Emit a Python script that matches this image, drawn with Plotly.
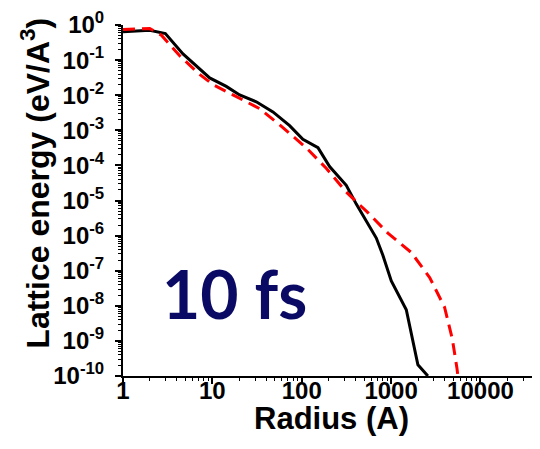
import plotly.graph_objects as go

# Data (radius in Angstrom, lattice energy in eV/A^3)
black_r = [1, 1.99, 2.98, 4.69, 9.33, 14.3, 20.2, 31.0, 47.6, 73.2, 103, 152, 205,
           315, 408, 528, 683, 809, 1005, 1479, 1995, 2580]
black_e = [0.64, 0.71, 0.57, 0.15, 0.031, 0.0178, 0.0102, 0.0065, 0.00333, 0.00136,
           5.5e-4, 3.2e-4, 9.3e-5, 2.7e-5, 7.9e-6, 2.6e-6, 8.5e-7, 2.75e-7, 5.1e-8,
           7.7e-9, 2.1e-10, 1.0e-10]

red_r = [1, 1.99, 2.69, 4.31, 7.21, 10.2, 17.0, 33.8, 58, 112, 188, 315, 550,
         921, 1683, 2700, 3965, 4840, 5450, 5590]
red_e = [0.75, 0.80, 0.51, 0.133, 0.039, 0.020, 0.0102, 0.00415, 0.00136, 3.2e-4,
         8.3e-5, 1.74e-5, 4.5e-6, 1.18e-6, 3.3e-7, 6.4e-8, 9.1e-9, 1.15e-9, 1.7e-10,
         1.0e-10]

x_tickvals = [1, 10, 100, 1000, 10000]
x_ticktext = ["1", "10", "100", "1000", "10000"]
y_exponents = [0, -1, -2, -3, -4, -5, -6, -7, -8, -9, -10]

y_tickvals = [10.0 ** e for e in y_exponents]
y_ticktext = ["10<sup>%d</sup>" % e for e in y_exponents]
y_minor = [m * 10.0 ** e for e in range(-10, 0) for m in range(2, 10)]
x_minor = [m * 10.0 ** e for e in range(0, 5) for m in range(2, 10)]

FONT = "Liberation Sans"

fig = go.Figure()
fig.add_trace(go.Scatter(x=black_r, y=black_e, mode="lines",
                         line=dict(color="black", width=3), showlegend=False))
fig.add_trace(go.Scatter(x=red_r, y=red_e, mode="lines",
                         line=dict(color="#ff0000", width=3, dash="12px,7px"),
                         showlegend=False))

axis_common = dict(
    showgrid=False, zeroline=False, showline=True, linecolor="black", linewidth=2,
    ticks="outside", ticklen=6, tickwidth=1.5, tickcolor="black", automargin=False,
    tickfont=dict(family=FONT, size=24, color="black", weight="bold"),
)

fig.update_xaxes(type="log", range=[0, 4.655], tickmode="array",
                 tickvals=x_tickvals, ticktext=x_ticktext, ticklabelstandoff=-14,
                 minor=dict(tickmode="array", tickvals=x_minor, ticks="outside",
                            ticklen=3, tickwidth=1.2, tickcolor="black"),
                 **axis_common)
fig.update_yaxes(type="log", range=[-10, 0], tickmode="array",
                 tickvals=y_tickvals, ticktext=y_ticktext, ticklabelstandoff=6,
                 minor=dict(tickmode="array", tickvals=y_minor, ticks="outside",
                            ticklen=3, tickwidth=1.2, tickcolor="black"),
                 **axis_common)

fig.add_annotation(text="Radius (A)", xref="paper", yref="paper",
                   x=0.5, y=(368 - 410) / 343, xanchor="center", yanchor="middle",
                   showarrow=False,
                   font=dict(family=FONT, size=31, color="black", weight="bold"))
fig.add_annotation(text="Lattice energy (eV/A<sup>3</sup>)", textangle=-90,
                   xref="paper", yref="paper", x=-0.2115, y=(368 - 180) / 343,
                   xanchor="center", yanchor="middle", showarrow=False,
                   font=dict(family=FONT, size=32, color="black", weight="bold"))
fig.add_annotation(text="10 fs", xref="paper", yref="paper",
                   x=(234.5 - 123) / 416, y=(368 - 287) / 343,
                   xanchor="center", yanchor="middle", showarrow=False,
                   font=dict(family="Lato", size=66, color="#0a0a64", weight="bold"))

# the page adds an 8px body margin, so the figure is shifted by (8, 8)
fig.update_layout(width=532, height=441, margin=dict(l=115, r=1, t=17, b=73),
                  plot_bgcolor="white", paper_bgcolor="white")

fig.write_html("out.html")
